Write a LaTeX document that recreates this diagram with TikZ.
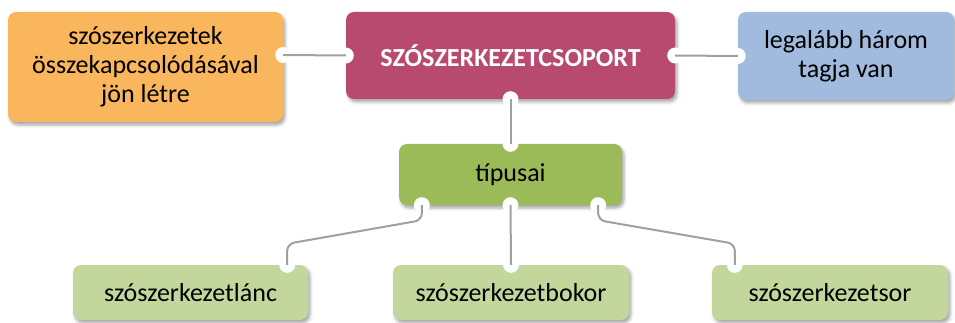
\documentclass[tikz,border=0pt]{standalone}
\usepackage{fontspec}
\setmainfont{Carlito}
\usetikzlibrary{calc,shadows.blur}

\definecolor{boxorange}{RGB}{249,182,92}
\definecolor{boxrose}{RGB}{185,74,111}
\definecolor{boxblue}{RGB}{160,187,221}
\definecolor{boxgreen}{RGB}{155,187,89}
\definecolor{boxlight}{RGB}{195,214,155}
\definecolor{linkgray}{RGB}{160,160,160}

\tikzset{
	bubble/.style={rounded corners=8pt, inner sep=0pt, align=center,
		font=\fontsize{26}{29}\selectfont,
		blur shadow={shadow xshift=2pt, shadow yshift=-3pt, shadow blur radius=3pt, shadow opacity=35}},
	notch/.style={fill=white, draw=none},
	link/.style={draw=linkgray, line width=2pt}
}

\begin{document}
\begin{tikzpicture}[x=1pt, y=-1pt]
			%%%%% START %%%%%
			\useasboundingbox (0, 0) rectangle (955, 323);
			
			% top row
			\node[bubble, fill=boxorange, minimum width=275pt, minimum height=110pt] (kelet) at (145.5, 67)
				{szószerkezetek\\összekapcsolódásával\\jön létre};
			\node[bubble, fill=boxrose, text=white, font=\fontsize{26}{29}\selectfont\bfseries,
				minimum width=329pt, minimum height=87pt] (csoport) at (510.5, 55.5) {SZÓSZERKEZETCSOPORT};
			\node[bubble, fill=boxblue, minimum width=216pt, minimum height=88pt] (tag) at (846, 56)
				{legalább három\\tagja van};
			
			% middle
			\node[bubble, fill=boxgreen, minimum width=223pt, minimum height=61pt] (tipus) at (510.5, 174.5) {típusai};
			
			% bottom row
			\node[bubble, fill=boxlight, minimum width=235pt, minimum height=55pt] (lanc) at (190.5, 292.5) {szószerkezetlánc};
			\node[bubble, fill=boxlight, minimum width=236pt, minimum height=55pt] (bokor) at (511, 292.5) {szószerkezetbokor};
			\node[bubble, fill=boxlight, minimum width=236pt, minimum height=55pt] (sor) at (830, 292.5) {szószerkezetsor};
			
			% notch points
			\coordinate (keletE) at ($(kelet.east)+(0, -12)$);
			\coordinate (tipusL) at ($(tipus.south west)+(23, 0)$);
			\coordinate (tipusR) at ($(tipus.south east)+(-24, 0)$);
			\coordinate (lancN) at ($(lanc.north east)+(-21, 0)$);
			\coordinate (sorN) at ($(sor.north west)+(23, 0)$);
			
			\foreach \p in {keletE, csoport.west, csoport.east, csoport.south, tag.west,
				tipus.north, tipus.south, tipusL, tipusR, lancN, bokor.north, sorN}
				\fill[notch] (\p) circle (8);
			
			% connectors
			\draw[link] (keletE) -- (csoport.west);
			\draw[link] (csoport.east) -- (tag.west);
			\draw[link] (csoport.south) -- (tipus.north);
			\draw[link] (tipus.south) -- (bokor.north);
			\draw[link, rounded corners=7pt] (tipusL) -- ++(0, 15) -- ($(lancN)+(0, -21)$) -- (lancN);
			\draw[link, rounded corners=7pt] (tipusR) -- ++(0, 15) -- ($(sorN)+(0, -21)$) -- (sorN);
			
			%%%%% END %%%%%
		\end{tikzpicture}
\end{document}
